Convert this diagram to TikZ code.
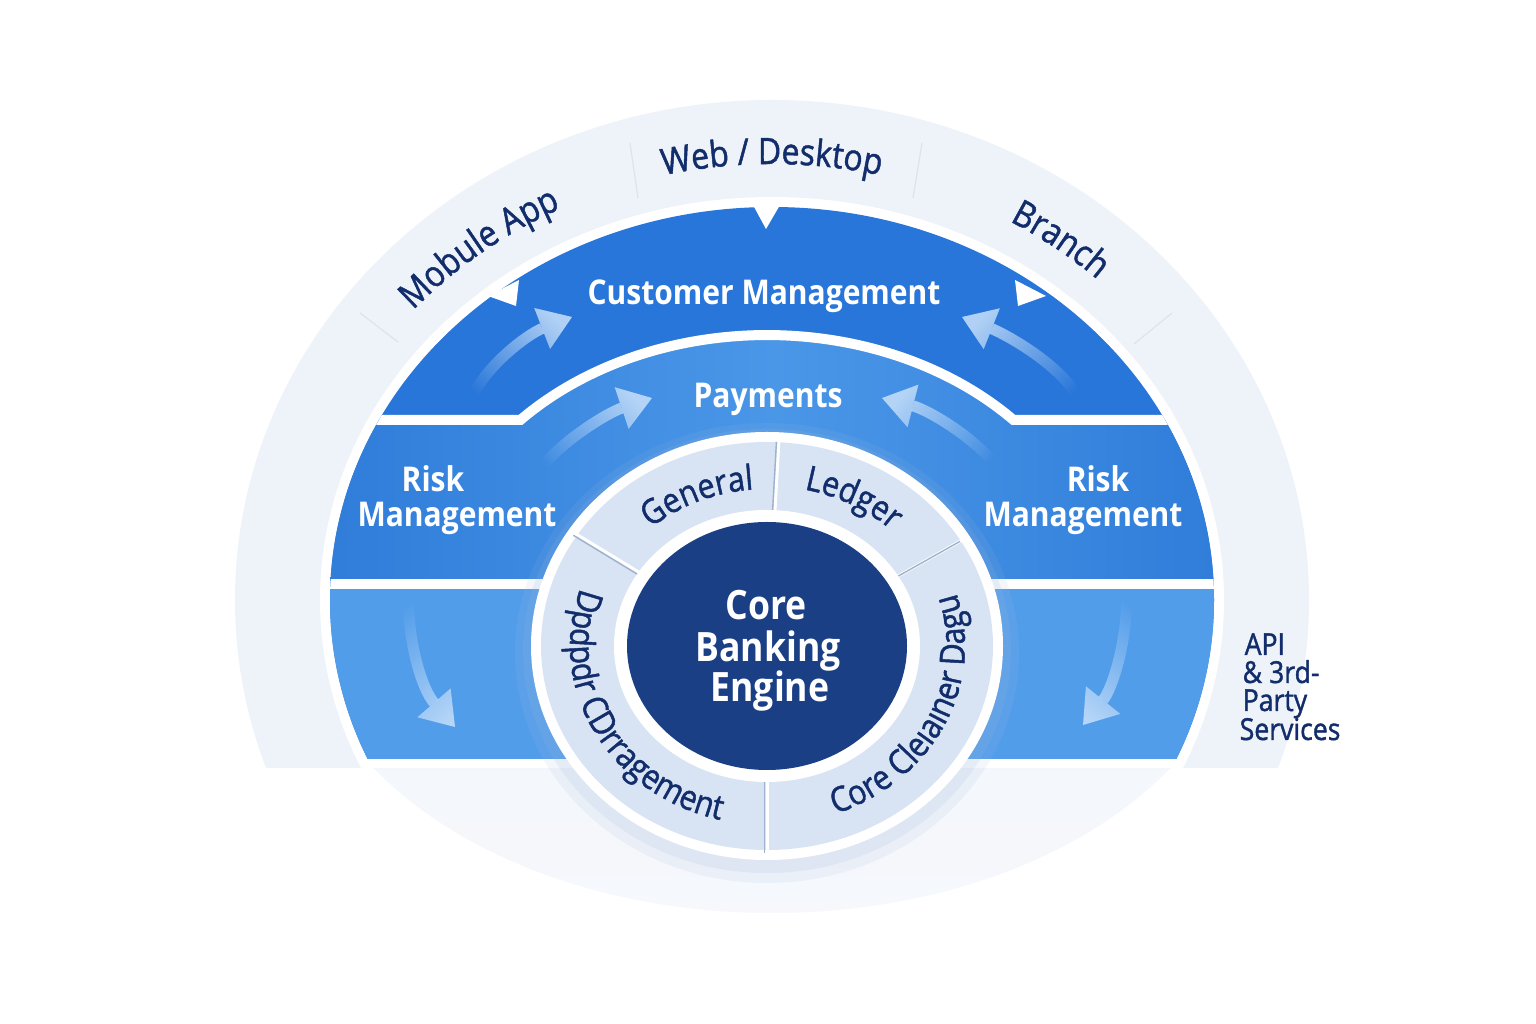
\documentclass[tikz,border=0pt]{standalone}
\usepackage{fontspec}
\setmainfont{Open Sans}[FakeStretch=0.88]
\newfontfamily\navyf{Open Sans}[FakeStretch=0.88, FakeBold=1.3]
\usetikzlibrary{decorations.text,arrows.meta,calc,fadings}
\definecolor{domec}{HTML}{EEF2F9}
\definecolor{lowell}{HTML}{EEF2F9}
\definecolor{domeline}{HTML}{DDE4EE}
\definecolor{custc}{HTML}{2876D9}
\definecolor{riskc}{HTML}{2E7BD9}
\definecolor{payc}{HTML}{4A97E8}
\definecolor{lowc}{HTML}{529DEA}
\definecolor{ringc}{HTML}{D8E4F3}
\definecolor{ringshadow}{HTML}{9DB8DD}
\definecolor{divgrey}{HTML}{9FB2CC}
\definecolor{corec}{HTML}{1B3F85}
\definecolor{navy}{HTML}{122D6B}
\definecolor{arrc}{HTML}{C8E0FA}
\newcommand\myfs[2]{\fontsize{#1}{#2}\selectfont}
\tikzfading[name=tailfade, left color=transparent!100, right color=transparent!15]
\tikzset{
  whitelab/.style={text=white, font=\bfseries\myfs{9.7}{11}, inner sep=0pt, anchor=base},
  corelab/.style={text=white, font=\bfseries\myfs{11.5}{13}, inner sep=0pt, anchor=base},
  apilab/.style={text=navy, font=\navyf\myfs{8.6}{10}, inner sep=0pt, anchor=base west},
  flowarrow/.style={draw=arrc, line width=0.11cm, path fading=tailfade, fading angle=#1,
     -{Triangle[width=0.44cm,length=0.32cm,line width=0pt]}},
  arctext/.style={decorate, decoration={text along path, text align=center, text={#1}}},
  divline/.style={white, line width=0.03cm},
  divshade/.style={divgrey, line width=0.4pt},
}
\begin{document}
\begin{tikzpicture}[x=0.01cm, y=0.01cm]
\useasboundingbox (0,0) rectangle (1536,1024);
\fill[white] (0,0) rectangle (1536,1024);
\coordinate (O) at (772,424);
\coordinate (C) at (767,378);

% lower light ellipse and dome
\shade[top color=lowell, bottom color=lowell!55!white] (O) ellipse [x radius=472, y radius=313];
\begin{scope}
  \clip (0,256) rectangle (1536,1024);
  \fill[domec] (O) ellipse [x radius=537, y radius=500];
  \fill[white] (O) ellipse [x radius=452, y radius=403];
\end{scope}
\draw[domeline, line width=0.012cm] (630,881) -- (638,826);
\draw[domeline, line width=0.012cm] (922,881) -- (913,826);
\draw[domeline, line width=0.012cm] (360,711) -- (398,682);
\draw[domeline, line width=0.012cm] (1172,711) -- (1134,680);

% blue bands
\begin{scope}
  \clip (O) ellipse [x radius=442, y radius=393];
  \clip (0,265) rectangle (1536,1024);
  \fill[custc] (300,265) rectangle (1250,850);
  \shade[left color=riskc, right color=riskc, middle color=payc]
    (300,604) -- (520.4,604) arc[start angle=137.2, end angle=42.8, x radius=336, y radius=265]
    -- (1250,604) -- (1250,440) -- (300,440) -- cycle;
  \fill[lowc] (300,265) rectangle (1250,440);
  \draw[white, line width=0.1cm] (300,604) -- (520.4,604)
    arc[start angle=137.2, end angle=42.8, x radius=336, y radius=265] -- (1250,604);
  \draw[white, line width=0.1cm] (300,440) -- (1250,440);
\end{scope}

% notches
\fill[white] (753,819) -- (766,795) -- (780,819) -- cycle;
\fill[white] (488,728) -- (516,718) -- (519,744) -- cycle;
\fill[white] (1046,728) -- (1018,718) -- (1015,744) -- cycle;

% flow arrows
\draw[flowarrow=41] (468,617) .. controls (480,655) and (528,690) .. (572,707);
\draw[flowarrow=143] (1082,617) .. controls (1070,655) and (1005,690) .. (962,707);
\draw[flowarrow=33] (535,549) .. controls (562,585) and (610,612) .. (652,626);
\draw[flowarrow=149] (1000,554) .. controls (972,590) and (925,615) .. (882,626);
\draw[flowarrow=-71] (408,431) .. controls (408,380) and (422,335) .. (455,297);
\draw[flowarrow=-108] (1127,431) .. controls (1127,380) and (1112,335) .. (1083,299);

% ring
\fill[ringshadow, opacity=0.12] ($(C)+(0,-7)$) ellipse [x radius=252, y radius=230];
\fill[ringshadow, opacity=0.15] ($(C)+(0,-5)$) ellipse [x radius=244, y radius=222];
\fill[white] (C) ellipse [x radius=236, y radius=214];
\fill[ringc] (C) ellipse [x radius=226, y radius=204];
\foreach \a in {87,147,31,270} {
  \draw[divline] ($(C)+(\a:150 and 133)$) -- ($(C)+(\a:228 and 206)$);
  \draw[divshade] ($(C)+(\a:150 and 133)+(-2.5,-1.5)$) -- ($(C)+(\a:228 and 206)+(-2.5,-1.5)$);
}
\fill[white] (C) ellipse [x radius=153, y radius=136];
\fill[corec] (C) ellipse [x radius=140, y radius=124];

% ring texts
\path[arctext={|\color{navy}\navyf\myfs{9.8}{11}|General}]
  ($(C)+(138:176 and 157)$) arc[start angle=138, end angle=88, x radius=176, y radius=157];
\path[arctext={|\color{navy}\navyf\myfs{9.8}{11}|Ledger}]
  ($(C)+(84:180 and 160)$) arc[start angle=84, end angle=40, x radius=180, y radius=160];
\path[arctext={|\color{navy}\navyf\myfs{9.8}{11}|Dpdpdr CDrragement}]
  ($(C)+(155:197 and 179)$) arc[start angle=155, end angle=262, x radius=197, y radius=179];
\path[arctext={|\color{navy}\navyf\myfs{9.8}{11}|Core Cleıaıner Dagu}]
  ($(C)+(-76:198 and 179)$) arc[start angle=-76, end angle=24, x radius=198, y radius=179];

% outer channel texts
\path[arctext={|\color{navy}\navyf\myfs{10.3}{12}|Mobule App}]
  ($(O)+(150:480 and 436)$) arc[start angle=150, end angle=105, x radius=480, y radius=436];
\path[arctext={|\color{navy}\navyf\myfs{10.3}{12}|Web / Desktop}]
  ($(O)+(115:480 and 436)$) arc[start angle=115, end angle=65, x radius=480, y radius=436];
\path[arctext={|\color{navy}\navyf\myfs{10.3}{12}|Branch}]
  ($(O)+(75:480 and 436)$) arc[start angle=75, end angle=32, x radius=480, y radius=436];

% labels
\node[whitelab] (cust) at (764,719) {Customer Management};
\node[whitelab] (pay) at (768,616) {Payments};
\node[whitelab] (riskL1) at (433,532) {Risk};
\node[whitelab] (riskL2) at (457,497) {Management};
\node[whitelab] (riskR1) at (1098,532) {Risk};
\node[whitelab] (riskR2) at (1083,497) {Management};
\node[corelab] (core1) at (766,404) {Core};
\node[corelab] (core2) at (768,362) {Banking};
\node[corelab] (core3) at (770,322) {Engine};
\node[apilab] (api1) at (1244,369) {API};
\node[apilab] (api2) at (1242,341) {\& 3rd-};
\node[apilab] (api3) at (1242,313) {Party};
\node[apilab] (api4) at (1239,284) {Services};
\end{tikzpicture}
\end{document}
